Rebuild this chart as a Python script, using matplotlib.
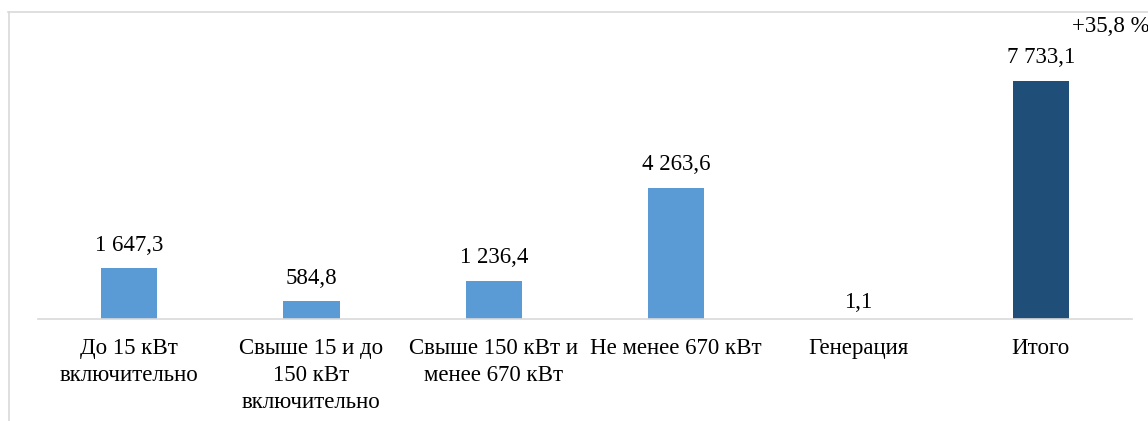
import matplotlib.pyplot as plt
from matplotlib.lines import Line2D

# Данные
categories = ['До 15 кВт\nвключительно', 'Свыше 15 и до\n150 кВт\nвключительно',
              'Свыше 150 кВт и\nменее 670 кВт', 'Не менее 670 кВт', 'Генерация', 'Итого']
values = [1647.3, 584.8, 1236.4, 4263.6, 1.1, 7733.1]
value_labels = ['1 647,3', '584,8', '1 236,4', '4 263,6', '1,1', '7 733,1']
growth_label = '+35,8 %'

plt.rcParams['font.family'] = ['Liberation Serif', 'DejaVu Serif']
plt.rcParams['font.size'] = 16

W, H = 1148, 421
fig = plt.figure(figsize=(W / 100, H / 100), dpi=100)

# ось: базовая линия на y=319 px, 7733,1 -> 238 px
ymax = 9000
ax_h = 238 * ymax / 7733.1
ax = fig.add_axes([38 / W, 1 - 319 / H, (1132 - 38) / W, ax_h / H])

cores = ['#5B9BD5'] * 5 + ['#1F4E79']
x = list(range(len(categories)))
bars = ax.bar(x, values, width=0.31, color=cores)

# подписи значений (у "Генерации" подпись чуть ниже, как в оригинале)
for b, lbl in zip(bars, value_labels):
    pad = 4 if b.get_height() < 10 else 9
    ax.annotate(lbl, (b.get_x() + b.get_width() / 2, b.get_height()),
                xytext=(0, pad), textcoords='offset points',
                ha='center', va='bottom', fontsize=16.5)

ax.set_xlim(-0.5, 5.5)
ax.set_ylim(0, ymax)
ax.set_xticks(x)
ax.set_xticklabels(categories, linespacing=1.35, fontsize=16.5)
ax.tick_params(axis='x', length=0, pad=14)
ax.set_yticks([])
for s in ['top', 'right', 'left']:
    ax.spines[s].set_visible(False)
ax.spines['bottom'].set_color('#d9d9d9')
ax.spines['bottom'].set_linewidth(1.2)

# прирост
fig.text(1072 / W, 1 - 27 / H, growth_label, ha='left', va='center', fontsize=16.5)

# рамка диаграммы
fig.add_artist(Line2D([8 / W, 1], [1 - 12 / H, 1 - 12 / H], color='#d9d9d9', lw=1.2))
fig.add_artist(Line2D([9 / W, 9 / W], [1 - 12 / H, 0], color='#d9d9d9', lw=1.2))

plt.savefig('out.png', dpi=100)
